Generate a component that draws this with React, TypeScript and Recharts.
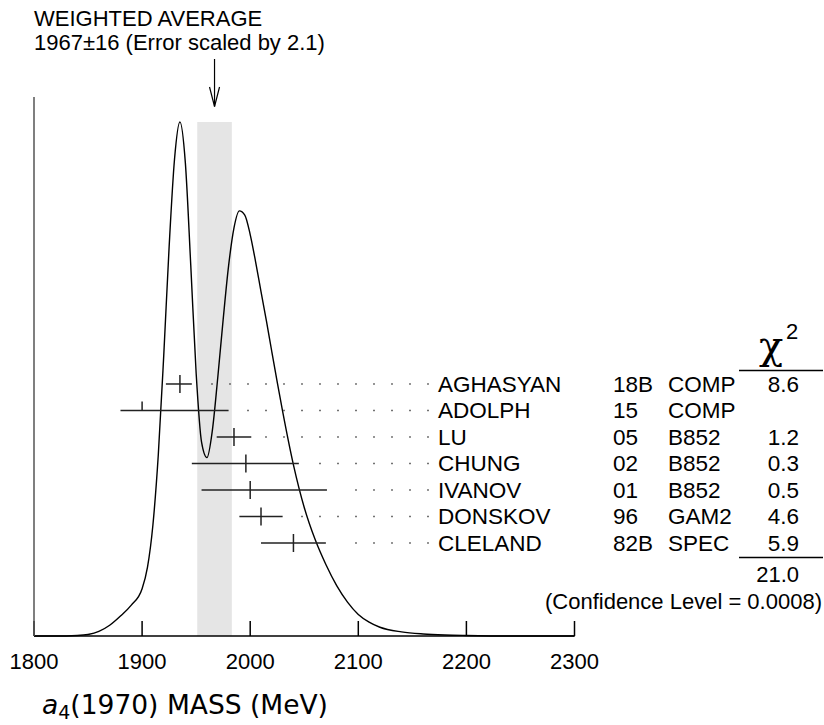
import React from "react";
import {
  ComposedChart,
  Line,
  Scatter,
  ErrorBar,
  XAxis,
  YAxis,
  ReferenceArea,
} from "recharts";

// ideogram curve (peak height = 1)
const MASS = [
  1800, 1820, 1840, 1850, 1860, 1870, 1880, 1890, 1900, 1905, 1910, 1915, 1920,
  1925, 1930, 1935, 1940, 1945, 1950, 1955, 1960, 1965, 1970, 1975, 1980, 1985,
  1990, 1995, 2000, 2005, 2010, 2015, 2020, 2025, 2030, 2040, 2050, 2060, 2070,
  2080, 2090, 2100, 2110, 2120, 2140, 2160, 2180, 2200, 2240, 2300,
];
const IDEOGRAM = [
  0, 0, 0.001, 0.003, 0.009, 0.021, 0.039, 0.06, 0.092, 0.134, 0.216, 0.353,
  0.545, 0.757, 0.928, 1.0, 0.921, 0.722, 0.511, 0.377, 0.347, 0.4, 0.503,
  0.616, 0.72, 0.794, 0.827, 0.819, 0.781, 0.728, 0.67, 0.613, 0.553, 0.494,
  0.437, 0.333, 0.25, 0.188, 0.139, 0.098, 0.066, 0.042, 0.027, 0.017, 0.008,
  0.004, 0.002, 0.001, 0, 0,
];

// measurements
const AUTHORS = ["AGHASYAN", "ADOLPH", "LU", "CHUNG", "IVANOV", "DONSKOV", "CLELAND"];
const YEARS = ["18B", "15", "05", "02", "01", "96", "82B"];
const TECNS = ["COMP", "COMP", "B852", "B852", "B852", "GAM2", "SPEC"];
const VALUES = [1935, 1900, 1985, 1996, 2000, 2010, 2040];
const ERR_LOW = [13, 20, 16, 50, 45, 20, 30];
const ERR_HIGH = [11, 80, 16, 49, 71, 20, 30];
const CHI2 = ["8.6", "", "1.2", "0.3", "0.5", "4.6", "5.9"];

const AVERAGE = 1967;
const AVERAGE_ERR = 16;
const SCALE_FACTOR = "2.1";
const TOTAL_CHI2 = "21.0";
const CONFIDENCE = "0.0008";
const X_TICKS = [1800, 1900, 2000, 2100, 2200, 2300];

const FONT = '"Liberation Sans", Arial, Helvetica, sans-serif';
const LABEL_X = 438;
const YEAR_X = 613;
const TECN_X = 668;
const CHI_X = 799;

const curveData = MASS.map((m, i) => ({ mass: m, v: IDEOGRAM[i] }));
const rows = AUTHORS.map((name, i) => ({
  mass: VALUES[i],
  row: i,
  err: [ERR_LOW[i], ERR_HIGH[i]],
  name,
  year: YEARS[i],
  tecn: TECNS[i],
  chi2: CHI2[i],
}));
// leader dots start at the upper end of each error bar
const leaders = rows.map((r) => ({ ...r, mass: r.mass + r.err[1] }));
const average = [{ mass: AVERAGE, v: 1 }];

function CenterTick(props: any) {
  const { cx, cy, payload } = props;
  const used = payload.chi2 !== "";
  return (
    <line x1={cx} x2={cx} y1={cy - 9} y2={used ? cy + 9 : cy} stroke="#222" strokeWidth={1.5} />
  );
}

function RowText(props: any) {
  const { cx, cy, payload } = props;
  const dots = [];
  for (let x = LABEL_X - 10; x > cx + 13; x -= 18) {
    dots.push(<rect key={x} x={x - 0.75} y={cy - 0.75} width={1.5} height={1.5} fill="#444" />);
  }
  const t = { fontFamily: FONT, fontSize: 22.5, fill: "#000" };
  return (
    <g>
      {dots}
      <text x={LABEL_X} y={cy + 8} {...t}>{payload.name}</text>
      <text x={YEAR_X} y={cy + 8} {...t}>{payload.year}</text>
      <text x={TECN_X} y={cy + 8} {...t}>{payload.tecn}</text>
      <text x={CHI_X} y={cy + 8} textAnchor="end" {...t}>{payload.chi2}</text>
    </g>
  );
}

function Arrow(props: any) {
  const { cx, cy } = props;
  return (
    <g stroke="#000" strokeWidth={1.2} fill="none">
      <line x1={cx} x2={cx} y1={cy - 63} y2={cy - 15.5} />
      <polyline points={`${cx - 5},${cy - 35} ${cx},${cy - 15.5} ${cx + 5},${cy - 35}`} />
    </g>
  );
}

export default function App() {
  const t = { fontFamily: FONT, fontSize: 22, fill: "#000" };
  return (
    <div style={{ position: "absolute", left: 0, top: 0, width: 824, height: 725, background: "#fff" }}>
      <ComposedChart
        width={824}
        height={725}
        margin={{ top: 97, right: 249.5, bottom: 59, left: 33 }}
      >
        <XAxis
          dataKey="mass"
          type="number"
          scale="linear"
          domain={[1800, 2300]}
          ticks={X_TICKS}
          height={30}
          tickSize={-15}
          tickMargin={32}
          axisLine={{ stroke: "#000", strokeWidth: 1.5 }}
          tickLine={{ stroke: "#000", strokeWidth: 1.5 }}
          tick={{ fill: "#000", fontSize: 22, fontFamily: FONT }}
        />
        <YAxis
          yAxisId="curve"
          type="number"
          scale="linear"
          domain={[0, 1.0486]}
          width={1}
          tick={false}
          tickLine={false}
          axisLine={{ stroke: "#555", strokeWidth: 1.5 }}
        />
        <YAxis yAxisId="rows" type="number" scale="linear" domain={[-10.83, 9.51]} reversed hide />

        <ReferenceArea
          yAxisId="curve"
          x1={AVERAGE - AVERAGE_ERR}
          x2={AVERAGE + AVERAGE_ERR}
          y1={0}
          y2={1}
          fill="#e5e5e5"
          fillOpacity={1}
          stroke="none"
        />

        <Line
          yAxisId="curve"
          data={curveData}
          dataKey="v"
          type="monotone"
          stroke="#000"
          strokeWidth={1.4}
          dot={false}
          activeDot={false}
          isAnimationActive={false}
        />

        <Scatter yAxisId="rows" data={rows} dataKey="row" shape={<CenterTick />} isAnimationActive={false}>
          <ErrorBar dataKey="err" direction="x" width={0} stroke="#222" strokeWidth={1.5} isAnimationActive={false} />
        </Scatter>
        <Scatter yAxisId="rows" data={leaders} dataKey="row" shape={<RowText />} isAnimationActive={false} />
        <Scatter yAxisId="curve" data={average} dataKey="v" shape={<Arrow />} isAnimationActive={false} />
      </ComposedChart>

      <svg width={824} height={725} style={{ position: "absolute", left: 0, top: 0, pointerEvents: "none" }}>
        <text x={34} y={26} {...t}>WEIGHTED AVERAGE</text>
        <text x={34} y={50} {...t}>
          {`${AVERAGE}±${AVERAGE_ERR} (Error scaled by ${SCALE_FACTOR})`}
        </text>

        <text x={759} y={359} fontFamily='"DejaVu Serif", serif' fontSize={40}>χ</text>
        <text x={786} y={339} fontFamily={FONT} fontSize={22}>2</text>
        <line x1={739} x2={823} y1={370.5} y2={370.5} stroke="#000" strokeWidth={1.3} />
        <line x1={739} x2={823} y1={557.5} y2={557.5} stroke="#000" strokeWidth={1.3} />
        <text x={CHI_X} y={582} textAnchor="end" {...t}>{TOTAL_CHI2}</text>
        <text x={822} y={609} textAnchor="end" {...t}>{`(Confidence Level = ${CONFIDENCE})`}</text>

        <text x={42} y={714} fontFamily='"DejaVu Sans", sans-serif' fontSize={26.5} fill="#000">
          <tspan fontStyle="italic">a</tspan>
          <tspan fontSize={19} dy={5}>4</tspan>
          <tspan dy={-5}>(1970) MASS (MeV)</tspan>
        </text>
      </svg>
    </div>
  );
}
